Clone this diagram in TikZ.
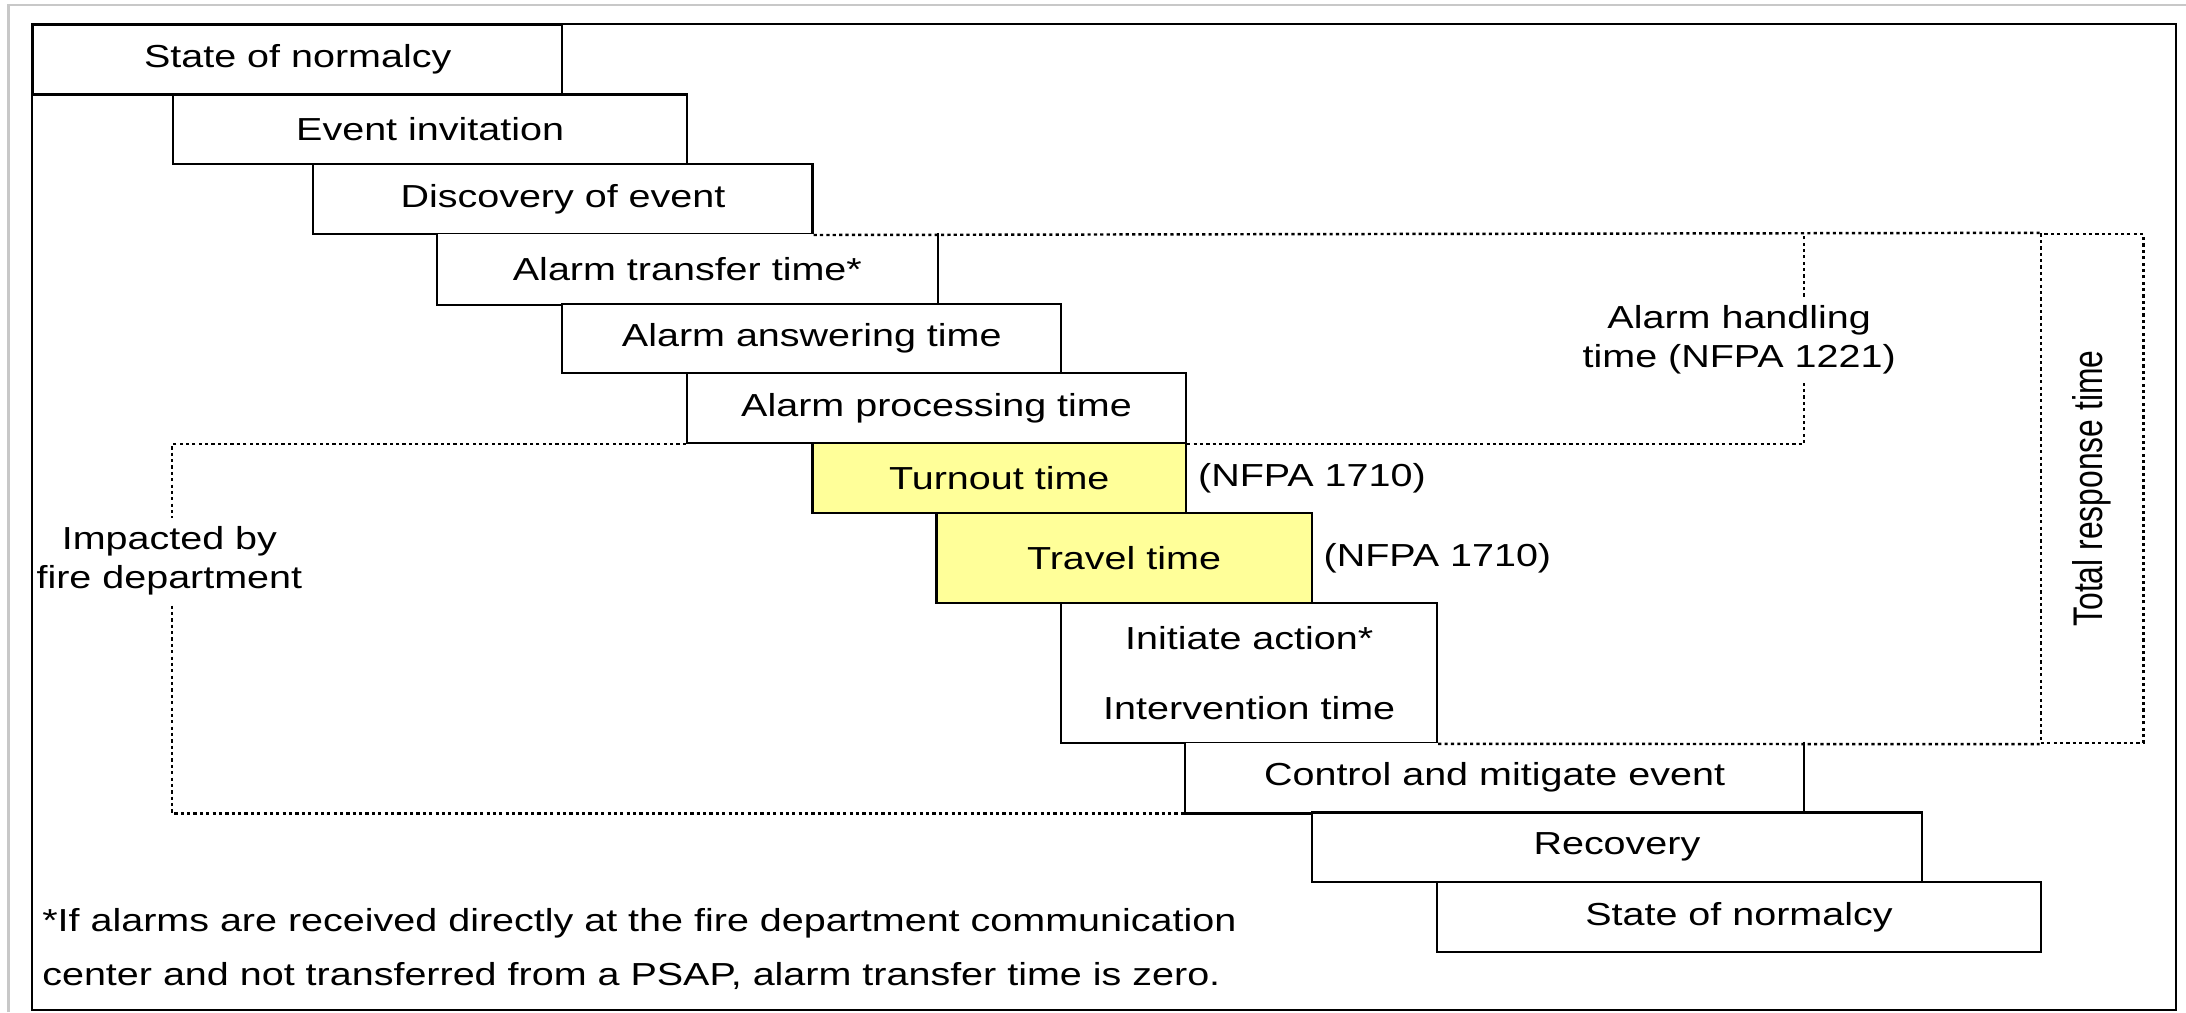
\documentclass[tikz,border=0pt]{standalone}
\usepackage{fontspec}
\setmainfont{Liberation Sans}[FakeStretch=1.24]
\newfontfamily\uprightsans{Liberation Sans}
\usetikzlibrary{positioning}
\definecolor{fdyellow}{HTML}{FFFF99}
\definecolor{framegrey}{HTML}{C8C8C8}

\begin{document}
\begin{tikzpicture}[
    every node/.style={font=\fontsize{13}{16}\selectfont},
    boxline/.style={line width=0.9pt, black},
    phase/.style={draw, boxline, fill=white, minimum height=1cm, inner sep=0pt, anchor=north west},
    fdphase/.style={phase, fill=fdyellow},
    openphase/.style={phase, draw=none},
    dotline/.style={line width=1pt, dash pattern=on 1.3pt off 1.3pt},
    note/.style={inner sep=0.12cm},
]
\useasboundingbox (-0.46,-0.03) rectangle (30.90,14.49);

% outer grey edge
\draw[framegrey, line width=1pt] (-0.34,-0.03) -- (-0.34,14.42) -- (30.90,14.42);

% phases, one row each
\node[phase, minimum width=7.59cm] (normalcy) at (0,14.15) {State of normalcy};
\node[phase, minimum width=7.37cm] (invite) at (2.01,13.15) {Event invitation};
\node[phase, minimum width=7.16cm] (discover) at (4.02,12.15) {Discovery of event};
\node[openphase, minimum width=7.15cm] (transfer) at (5.81,11.15) {Alarm transfer time*};
\draw[boxline] (transfer.north east) -- (transfer.south east) -- (transfer.south west) -- (transfer.north west);
\node[phase, minimum width=7.16cm] (answer) at (7.59,10.15) {Alarm answering time};
\node[phase, minimum width=7.16cm] (process) at (9.38,9.15) {Alarm processing time};
\node[fdphase, minimum width=5.36cm] (turnout) at (11.18,8.15) {Turnout time};
\node[fdphase, minimum width=5.38cm, minimum height=1.3cm] (travel) at (12.96,7.15) {Travel time};
\node[phase, minimum width=5.39cm, minimum height=2cm, align=center,
      font=\fontsize{13}{28.45}\selectfont] (initiate) at (14.75,5.85) {Initiate action*\\Intervention time};
\node[openphase, minimum width=8.85cm] (control) at (16.54,3.85) {Control and mitigate event};
\draw[boxline] (control.north east) -- (control.south east) -- (control.south west) -- (control.north west);
\node[phase, minimum width=8.76cm] (recovery) at (18.34,2.85) {Recovery};
\node[phase, minimum width=8.66cm] (normalcyend) at (20.14,1.85) {State of normalcy};

% standards
\node[inner sep=0pt, right=0.15cm of turnout] (nfpaturnout) {(NFPA 1710)};
\node[inner sep=0pt, right=0.15cm of travel] (nfpatravel) {(NFPA 1710)};

% dotted spans
\node[draw, dotline, minimum width=1.47cm, minimum height=7.3cm, anchor=north west] (total) at (28.80,11.15) {};
\draw[dotline] (discover.south east) -- (total.north west);
\draw[dotline] (initiate.south east) -- (total.south west);
\draw[dotline] (process.south east) -- (process.south -| control.east) -- (discover.south -| control.east);
\draw[dotline] (process.south west) -- (process.south -| invite.west) -- (control.south -| invite.west) -- (control.south west);

% span labels
\node[note, fill=white, align=center] (handling) at (24.49,9.62) {Alarm handling\\time (NFPA 1221)};
\node[note, fill=white, align=center] (impacted) at (1.97,6.45) {Impacted by\\fire department};
\node[rotate=90, inner sep=0pt] (totallabel) at (total.center) {\uprightsans\scalebox{1}[1.3]{Total response time}};

% footnote
\node[anchor=north west, inner sep=0pt, align=left, font=\fontsize{13}{22}\selectfont] (footnote) at (0.14,1.47)
  {*If alarms are received directly at the fire department communication\\center and not transferred from a PSAP, alarm transfer time is zero.};

% black frame on top
\draw[boxline] (0,0) rectangle (30.76,14.15);

\end{tikzpicture}
\end{document}
